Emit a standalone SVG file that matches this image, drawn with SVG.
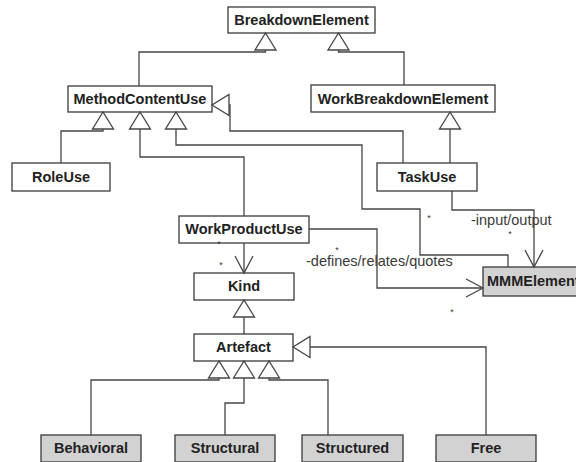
<svg xmlns="http://www.w3.org/2000/svg" width="576" height="462" viewBox="0 0 576 462">
<style>
.box{fill:#ffffff;stroke:#3a3a3a;stroke-width:1.3}
.grey{fill:#d2d2d2}
.lbl{font-family:"Liberation Sans",Arial,sans-serif;font-weight:bold;font-size:14.5px;fill:#222;text-anchor:middle}
.edge{fill:none;stroke:#454545;stroke-width:1.3}
.gen{marker-end:url(#gen)}
.nav{marker-end:url(#nav)}
.note{font-family:"Liberation Sans",Arial,sans-serif;font-size:14.5px;fill:#3a3a3a}
.star{font-family:"Liberation Sans",Arial,sans-serif;font-size:9px;fill:#3a3a3a;text-anchor:middle}
</style>
<defs>
<marker id="gen" markerUnits="userSpaceOnUse" viewBox="-2 -2 21 25" refX="17" refY="10.5" markerWidth="21" markerHeight="25" orient="auto" overflow="visible">
<path d="M0,0 L17,10.5 L0,21 Z" fill="#ffffff" stroke="#454545" stroke-width="1.3"/>
</marker>
<marker id="nav" markerUnits="userSpaceOnUse" viewBox="-2 -2 21 22" refX="17" refY="9" markerWidth="21" markerHeight="22" orient="auto" overflow="visible">
<path d="M0,0 L17,9 L0,18" fill="none" stroke="#454545" stroke-width="1.3"/>
</marker>
</defs>
<rect width="576" height="462" fill="#ffffff"/>
<g id="BreakdownElement"><rect class="box" x="228" y="7" width="147" height="26"/><text class="lbl" x="301.5" y="25">BreakdownElement</text></g>
<g id="MethodContentUse"><rect class="box" x="68" y="86" width="144" height="26"/><text class="lbl" x="140" y="104">MethodContentUse</text></g>
<g id="WorkBreakdownElement"><rect class="box" x="311" y="85" width="184" height="27"/><text class="lbl" x="403" y="104">WorkBreakdownElement</text></g>
<g id="RoleUse"><rect class="box" x="12" y="163" width="98" height="28"/><text class="lbl" x="61" y="182">RoleUse</text></g>
<g id="TaskUse"><rect class="box" x="377" y="163" width="100" height="28"/><text class="lbl" x="427" y="182">TaskUse</text></g>
<g id="WorkProductUse"><rect class="box" x="179" y="216" width="130" height="27"/><text class="lbl" x="244" y="234">WorkProductUse</text></g>
<g id="Kind"><rect class="box" x="194" y="273" width="100" height="27"/><text class="lbl" x="244" y="291">Kind</text></g>
<g id="MMMElement"><rect class="box grey" x="483" y="267" width="110" height="29"/><text class="lbl" x="487" y="286" style="text-anchor:start">MMMElement</text></g>
<g id="Artefact"><rect class="box" x="194" y="334" width="99" height="27"/><text class="lbl" x="243.5" y="352">Artefact</text></g>
<g id="Behavioral"><rect class="box grey" x="41" y="435" width="100" height="27"/><text class="lbl" x="91" y="453">Behavioral</text></g>
<g id="Structural"><rect class="box grey" x="175" y="435" width="100" height="27"/><text class="lbl" x="225" y="453">Structural</text></g>
<g id="Structured"><rect class="box grey" x="302" y="435" width="101" height="27"/><text class="lbl" x="352.5" y="453">Structured</text></g>
<g id="Free"><rect class="box grey" x="436" y="435" width="100" height="27"/><text class="lbl" x="486" y="453">Free</text></g>
<g id="connectors">
<path class="edge gen" d="M139,86 V52 H265.5 V33"/>
<path class="edge gen" d="M404,85 V52 H338.5 V33"/>
<path class="edge gen" d="M61,163 V131 H103 V112"/>
<path class="edge gen" d="M244,216 V157 H140 V112"/>
<path class="edge gen" d="M508,267 V255 H420 V209 H362 V145 H176 V112"/>
<path class="edge gen" d="M403,163 V131 H230 V105 H212"/>
<path class="edge gen" d="M450,163 V112"/>
<path class="edge nav" d="M452,191 V210 H534 V267"/>
<path class="edge nav" d="M244,243 V273"/>
<path class="edge nav" d="M309,229 H377 V288 H483"/>
<path class="edge gen" d="M244,334 V300"/>
<path class="edge gen" d="M91,435 V380 H219 V361"/>
<path class="edge gen" d="M225,435 V403 H244 V361"/>
<path class="edge gen" d="M328,435 V380 H269 V361"/>
<path class="edge gen" d="M486,435 V347 H293"/>
<text class="note" x="306" y="266">-defines/relates/quotes</text>
<text class="note" x="471" y="225">-input/output</text>
<text class="star" x="219" y="247">*</text>
<text class="star" x="221" y="268">*</text>
<text class="star" x="337" y="253">*</text>
<text class="star" x="452" y="315">*</text>
<text class="star" x="429" y="221">*</text>
<text class="star" x="510" y="237">*</text>
</g>
</svg>
